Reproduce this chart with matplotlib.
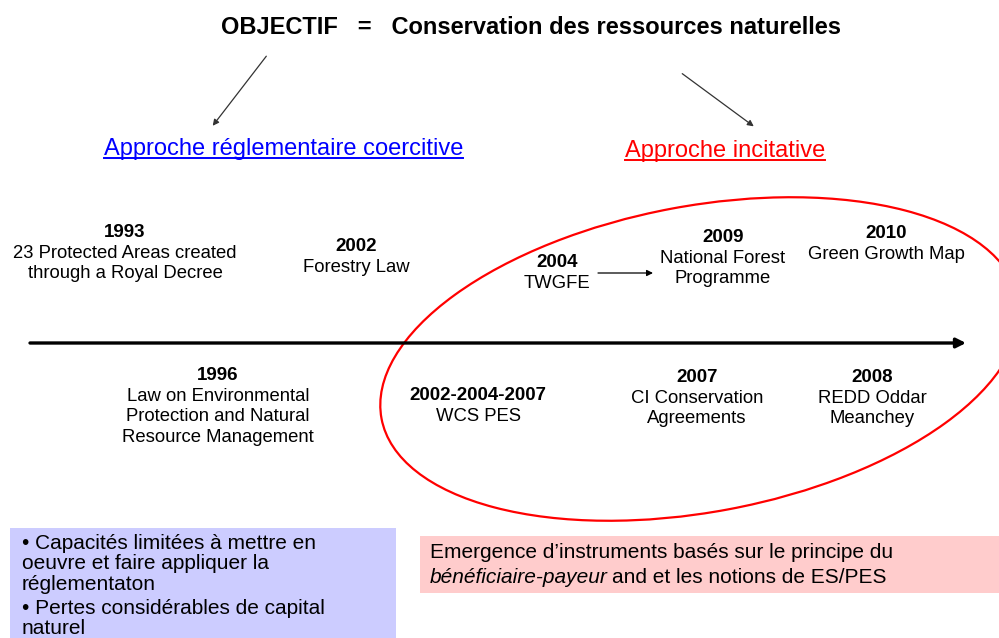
import matplotlib.pyplot as plt
from matplotlib.patches import Ellipse, Rectangle

plt.rcParams['font.family'] = ['Liberation Sans', 'DejaVu Sans']

title = "OBJECTIF   =   Conservation des ressources naturelles"
approach_left = "Approche réglementaire coercitive"
approach_right = "Approche incitative"

# timeline events above / below the axis
years_above = ["1993", "2002", "2004", "2009", "2010"]
labels_above = [["23 Protected Areas created", "through a Royal Decree"],
                ["Forestry Law"],
                ["TWGFE"],
                ["National Forest", "Programme"],
                ["Green Growth Map"]]
years_below = ["1996", "2002-2004-2007", "2007", "2008"]
labels_below = [["Law on Environmental", "Protection and Natural", "Resource Management"],
                ["WCS PES"],
                ["CI Conservation", "Agreements"],
                ["REDD Oddar", "Meanchey"]]

box_left_lines = ["\u2022 Capacités limitées à mettre en",
                  "oeuvre et faire appliquer la",
                  "réglementaton",
                  "\u2022 Pertes considérables de capital",
                  "naturel"]
box_right_line1 = "Emergence d\u2019instruments basés sur le principe du"
box_right_italic = "bénéficiaire-payeur"
box_right_rest = "and et les notions de ES/PES"

# layout (pixel coords, y down): centre x and baseline of the year
pos_above = [(125, 237), (356, 251), (557, 267), (723, 242), (886, 238)]
pos_below = [(218, 380), (478, 400), (697, 382), (872, 382)]
line_step = 20.7

fig = plt.figure(figsize=(9.99, 6.38), dpi=100)
ax = fig.add_axes([0, 0, 1, 1])
ax.set_xlim(0, 999)
ax.set_ylim(638, 0)
ax.axis('off')

# header
ax.text(531, 34, title, ha='center', va='baseline', fontsize=17, fontweight='bold')
ax.annotate("", xy=(211, 128), xytext=(268, 54),
            arrowprops=dict(arrowstyle='-|>', color='#333333', lw=0.9, mutation_scale=9))
ax.annotate("", xy=(756, 128), xytext=(680, 72),
            arrowprops=dict(arrowstyle='-|>', color='#333333', lw=0.9, mutation_scale=9))

t1 = ax.text(104, 155, approach_left, ha='left', va='baseline', fontsize=17, color='#0000FF')
t2 = ax.text(625, 157, approach_right, ha='left', va='baseline', fontsize=17, color='#FF0000')
fig.canvas.draw()
inv = ax.transData.inverted()
for t, y, c in [(t1, 158, '#0000FF'), (t2, 160, '#FF0000')]:
    bb = t.get_window_extent()
    x0 = inv.transform((bb.x0, bb.y0))[0]
    x1 = inv.transform((bb.x1, bb.y0))[0]
    ax.plot([x0, x1], [y, y], color=c, lw=1.4)

# timeline
ax.annotate("", xy=(966, 343), xytext=(30, 343),
            arrowprops=dict(arrowstyle='-|>', color='black', lw=2.4, mutation_scale=14,
                            shrinkA=0, shrinkB=0))

for yr, lines, (x, y) in zip(years_above + years_below, labels_above + labels_below,
                             pos_above + pos_below):
    ax.text(x, y, yr, ha='center', va='baseline', fontsize=13.5, fontweight='bold')
    for i, ln in enumerate(lines):
        ax.text(x, y + line_step * (i + 1), ln, ha='center', va='baseline', fontsize=13.3)

ax.annotate("", xy=(653, 273), xytext=(598, 273),
            arrowprops=dict(arrowstyle='-|>', color='black', lw=0.9, mutation_scale=9,
                            shrinkA=0, shrinkB=0))

# incentive ellipse
ax.add_patch(Ellipse((700, 359), 648, 306, angle=-10.6, fill=False, ec='#FF0000', lw=1.6))

# bottom boxes
ax.add_patch(Rectangle((10, 528), 386, 115, fc='#CCCCFF', ec='none'))
for ln, yb in zip(box_left_lines, [549, 569, 590, 614, 634]):
    ax.text(22, yb, ln, ha='left', va='baseline', fontsize=15)

ax.add_patch(Rectangle((420, 536), 579, 57, fc='#FFCCCC', ec='none'))
ax.text(430, 558, box_right_line1, ha='left', va='baseline', fontsize=15)
ti = ax.text(430, 583, box_right_italic, ha='left', va='baseline', fontsize=15, style='italic')
ax.annotate(box_right_rest, xy=(1, 0), xycoords=ti, xytext=(3, 0), textcoords='offset points',
            ha='left', va='bottom', fontsize=15)

fig.savefig('out.png', dpi=100)
